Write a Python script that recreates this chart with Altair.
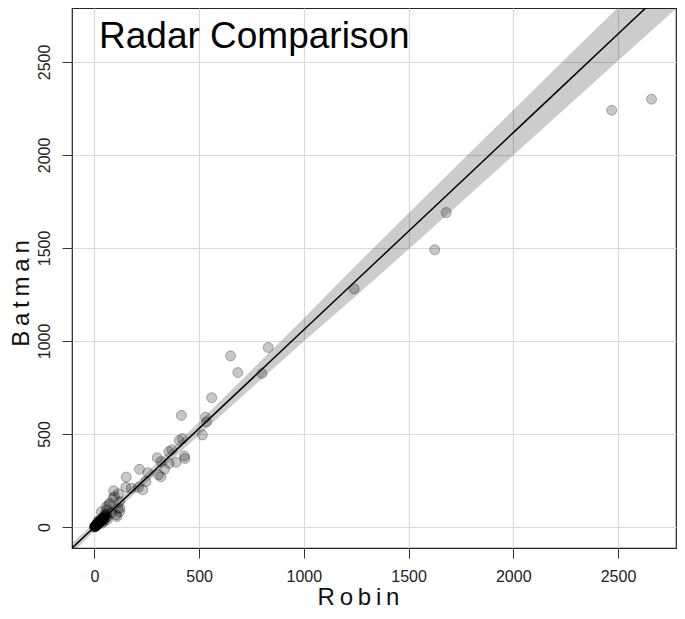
import altair as alt
import pandas as pd

# ---- data ----
robin = [2470, 2660, 1680, 1625, 1240,
         830, 800, 650, 685, 560, 415, 530, 535, 515, 420, 405, 355, 370, 300, 318,
         430, 432, 390, 335, 357, 215, 255, 306, 318, 152, 246, 150, 210, 231, 176,
         92, 115, 89, 68, 122, 104, 108, 60, 96, 120, 73, 57, 112, 120, 33, 80,
         0, 1, 2, 3, 4, 5, 6, 7, 8, 9, 10, 11, 12, 13, 14, 15, 16, 18, 19, 20,
         22, 23, 25, 26, 28, 30, 31, 33, 35, 37, 38, 40, 42, 44, 46, 48, 50, 52,
         55, 58, 60, 45, 36, 25, 15, 62, 50]
batman = [2240, 2300, 1690, 1490, 1280,
          965, 825, 920, 830, 695, 600, 590, 565, 495, 475, 465, 405, 415, 372, 352,
          382, 368, 348, 310, 342, 310, 292, 280, 270, 268, 244, 213, 213, 200, 208,
          195, 178, 155, 118, 100, 65, 56, 92, 163, 136, 127, 109, 100, 82, 82, 74,
          0, 2, 1, 4, 3, 6, 5, 9, 7, 12, 10, 8, 15, 13, 18, 14, 20, 17, 24, 22,
          19, 28, 25, 32, 27, 35, 30, 40, 36, 44, 33, 48, 41, 52, 45, 58, 47, 62,
          55, 68, 52, 30, 20, 40, 30, 40, 70]

fit_robin = [-150, 0, 250, 500, 750, 1000, 1250, 1500, 1750, 2000, 2250, 2500, 2750, 2900]
fit_batman = [-159, 0, 265, 530, 795, 1060, 1325, 1590, 1855, 2120, 2385, 2650, 2915, 3074]
fit_lower = [-189, -22, 239, 495, 747, 998, 1243, 1493, 1745, 1998, 2252, 2507, 2759, 2911]
fit_upper = [-129, 22, 291, 565, 843, 1122, 1407, 1687, 1965, 2242, 2518, 2793, 3071, 3237]

tick_values = [0, 500, 1000, 1500, 2000, 2500]
title_text = "Radar Comparison"
x_title = "R\u2009o\u2009b\u2009i\u2009n"
y_title = "B\u2009a\u2009t\u2009m\u2009a\u2009n"

pts = pd.DataFrame({"Robin": robin, "Batman": batman})
fit = pd.DataFrame({"Robin": fit_robin, "Batman": fit_batman,
                    "lo": fit_lower, "hi": fit_upper})

FONT = "Liberation Sans"
W, H = 604, 540
xscale = alt.Scale(domain=[-107, 2777], nice=False, zero=False)
yscale = alt.Scale(domain=[-113, 2790], nice=False, zero=False)

xaxis = alt.Axis(values=tick_values, format="d", title=x_title, grid=True, domain=False,
                 tickSize=10, tickColor="#333333", labelFont=FONT, labelFontSize=16,
                 labelColor="#222222", labelBaseline="middle", labelPadding=18,
                 titleFont=FONT, titleFontSize=24, titleFontWeight="normal",
                 titleColor="#111111", titleX=286, titleY=49,
                 titleAlign="center", titleBaseline="middle")
yaxis = alt.Axis(values=tick_values, format="d", title=y_title, grid=True, domain=False,
                 tickSize=10, tickColor="#333333", labelFont=FONT, labelFontSize=16,
                 labelColor="#222222", labelAngle=270, labelAlign="center",
                 labelBaseline="middle", labelPadding=18,
                 titleFont=FONT, titleFontSize=24, titleFontWeight="normal",
                 titleColor="#111111", titleAngle=270, titleX=-51, titleY=285,
                 titleAlign="center", titleBaseline="middle")

band = alt.Chart(fit).mark_area(color="#000000", opacity=0.2, clip=True).encode(
    x=alt.X("Robin:Q", scale=xscale, axis=xaxis),
    y=alt.Y("lo:Q", scale=yscale, axis=yaxis),
    y2="hi:Q",
)
line = alt.Chart(fit).mark_line(color="#000000", strokeWidth=1.5, clip=True).encode(
    x=alt.X("Robin:Q", scale=xscale, axis=xaxis),
    y=alt.Y("Batman:Q", scale=yscale, axis=yaxis),
)
points = alt.Chart(pts).mark_point(
    filled=True, shape="circle", size=100, fill="#000000", fillOpacity=0.22,
    stroke="#000000", strokeOpacity=0.28, strokeWidth=1, clip=True
).encode(
    x=alt.X("Robin:Q", scale=xscale, axis=xaxis),
    y=alt.Y("Batman:Q", scale=yscale, axis=yaxis),
)
title = alt.Chart(pd.DataFrame({"t": [title_text]})).mark_text(
    font=FONT, fontSize=37, align="left", baseline="alphabetic", color="#000000"
).encode(text="t:N", x=alt.value(27), y=alt.value(40))

chart = alt.layer(band, line, points, title).properties(
    width=W, height=H,
    autosize=alt.AutoSizeParams(type="none"),
    padding={"left": 64, "top": 0, "right": 1, "bottom": 63},
).configure_view(stroke="#222222", strokeWidth=1.2).configure_axis(
    gridColor="#d9d9d9", gridWidth=1.2
)

chart.save("out.html", embed_options={"renderer": "svg", "actions": False})
